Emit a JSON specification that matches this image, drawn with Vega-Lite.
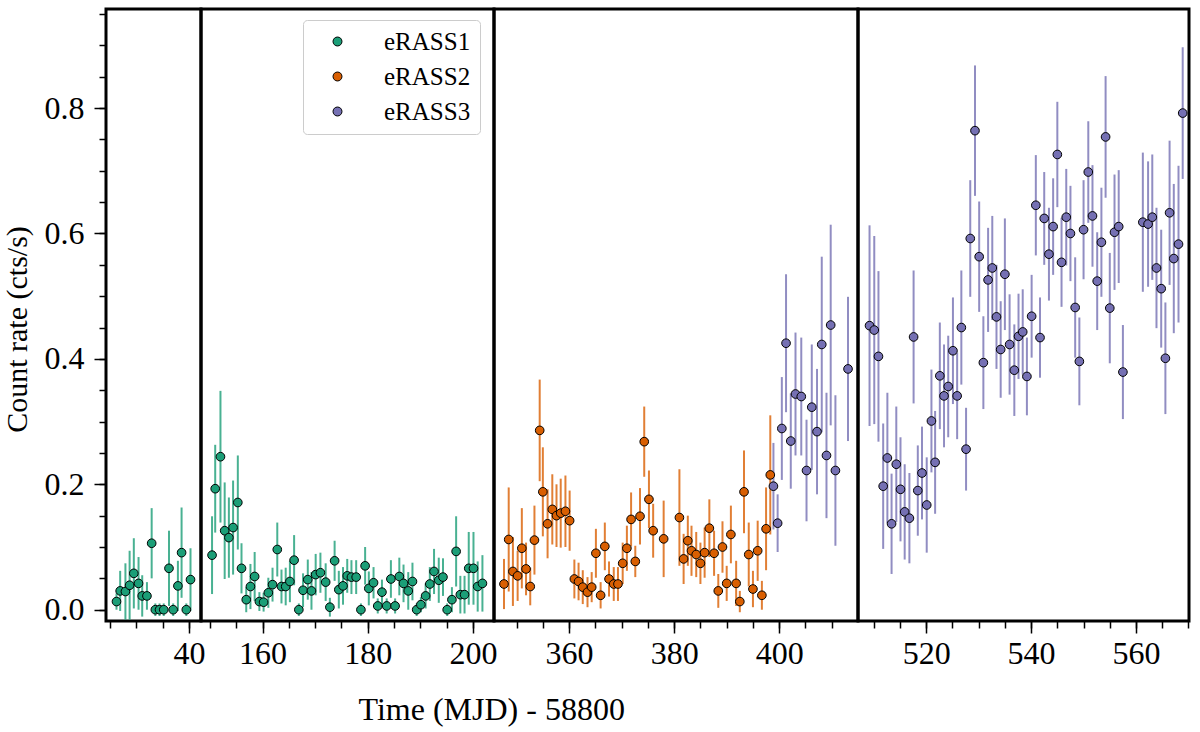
{
  "$schema": "https://vega.github.io/schema/vega-lite/v6.json",
  "padding": {"left": 0, "top": 7, "right": 5, "bottom": 5},
  "background": "white",
  "title": {
    "text": "Time (MJD) - 58800",
    "orient": "bottom",
    "anchor": "start",
    "dx": 358,
    "offset": 24,
    "font": "Liberation Serif",
    "fontSize": 32,
    "fontWeight": "normal",
    "color": "black"
  },
  "datasets": {
    "lc": [
      {"panel":1,"survey":"eRASS1","time":26.2,"rate":0.013,"err":0.013},
      {"panel":1,"survey":"eRASS1","time":26.9,"rate":0.030,"err":0.032},
      {"panel":1,"survey":"eRASS1","time":27.9,"rate":0.029,"err":0.045},
      {"panel":1,"survey":"eRASS1","time":28.7,"rate":0.039,"err":0.055},
      {"panel":1,"survey":"eRASS1","time":29.5,"rate":0.058,"err":0.056},
      {"panel":1,"survey":"eRASS1","time":30.4,"rate":0.042,"err":0.042},
      {"panel":1,"survey":"eRASS1","time":31.1,"rate":0.022,"err":0.033},
      {"panel":1,"survey":"eRASS1","time":32.0,"rate":0.022,"err":0.022},
      {"panel":1,"survey":"eRASS1","time":32.9,"rate":0.106,"err":0.056},
      {"panel":1,"survey":"eRASS1","time":33.6,"rate":0.0,"err":0.01},
      {"panel":1,"survey":"eRASS1","time":34.4,"rate":0.0,"err":0.01},
      {"panel":1,"survey":"eRASS1","time":35.2,"rate":0.0,"err":0.01},
      {"panel":1,"survey":"eRASS1","time":36.2,"rate":0.066,"err":0.06},
      {"panel":1,"survey":"eRASS1","time":37.0,"rate":0.0,"err":0.01},
      {"panel":1,"survey":"eRASS1","time":37.9,"rate":0.038,"err":0.04},
      {"panel":1,"survey":"eRASS1","time":38.6,"rate":0.091,"err":0.072},
      {"panel":1,"survey":"eRASS1","time":39.5,"rate":0.0,"err":0.01},
      {"panel":1,"survey":"eRASS1","time":40.3,"rate":0.048,"err":0.05},

      {"panel":2,"survey":"eRASS1","time":150.4,"rate":0.087,"err":0.062},
      {"panel":2,"survey":"eRASS1","time":151.0,"rate":0.193,"err":0.07},
      {"panel":2,"survey":"eRASS1","time":152.0,"rate":0.244,"err":0.105},
      {"panel":2,"survey":"eRASS1","time":152.8,"rate":0.126,"err":0.077},
      {"panel":2,"survey":"eRASS1","time":153.6,"rate":0.115,"err":0.064},
      {"panel":2,"survey":"eRASS1","time":154.4,"rate":0.131,"err":0.075},
      {"panel":2,"survey":"eRASS1","time":155.3,"rate":0.171,"err":0.075},
      {"panel":2,"survey":"eRASS1","time":156.0,"rate":0.066,"err":0.04},
      {"panel":2,"survey":"eRASS1","time":156.9,"rate":0.016,"err":0.02},
      {"panel":2,"survey":"eRASS1","time":157.7,"rate":0.037,"err":0.036},
      {"panel":2,"survey":"eRASS1","time":158.5,"rate":0.053,"err":0.039},
      {"panel":2,"survey":"eRASS1","time":159.4,"rate":0.013,"err":0.015},
      {"panel":2,"survey":"eRASS1","time":160.2,"rate":0.012,"err":0.015},
      {"panel":2,"survey":"eRASS1","time":161.1,"rate":0.027,"err":0.024},
      {"panel":2,"survey":"eRASS1","time":161.9,"rate":0.040,"err":0.027},
      {"panel":2,"survey":"eRASS1","time":162.8,"rate":0.096,"err":0.043},
      {"panel":2,"survey":"eRASS1","time":163.6,"rate":0.037,"err":0.027},
      {"panel":2,"survey":"eRASS1","time":164.4,"rate":0.037,"err":0.03},
      {"panel":2,"survey":"eRASS1","time":165.2,"rate":0.045,"err":0.033},
      {"panel":2,"survey":"eRASS1","time":166.0,"rate":0.079,"err":0.04},
      {"panel":2,"survey":"eRASS1","time":166.9,"rate":0.0,"err":0.01},
      {"panel":2,"survey":"eRASS1","time":167.7,"rate":0.031,"err":0.027},
      {"panel":2,"survey":"eRASS1","time":168.6,"rate":0.048,"err":0.032},
      {"panel":2,"survey":"eRASS1","time":169.3,"rate":0.030,"err":0.03},
      {"panel":2,"survey":"eRASS1","time":170.1,"rate":0.056,"err":0.033},
      {"panel":2,"survey":"eRASS1","time":171.0,"rate":0.059,"err":0.032},
      {"panel":2,"survey":"eRASS1","time":172.0,"rate":0.044,"err":0.03},
      {"panel":2,"survey":"eRASS1","time":172.8,"rate":0.004,"err":0.015},
      {"panel":2,"survey":"eRASS1","time":173.7,"rate":0.078,"err":0.032},
      {"panel":2,"survey":"eRASS1","time":174.5,"rate":0.032,"err":0.03},
      {"panel":2,"survey":"eRASS1","time":175.3,"rate":0.038,"err":0.03},
      {"panel":2,"survey":"eRASS1","time":176.1,"rate":0.054,"err":0.027},
      {"panel":2,"survey":"eRASS1","time":176.9,"rate":0.052,"err":0.027},
      {"panel":2,"survey":"eRASS1","time":177.8,"rate":0.052,"err":0.027},
      {"panel":2,"survey":"eRASS1","time":178.7,"rate":0.0,"err":0.01},
      {"panel":2,"survey":"eRASS1","time":179.5,"rate":0.070,"err":0.03},
      {"panel":2,"survey":"eRASS1","time":180.2,"rate":0.034,"err":0.027},
      {"panel":2,"survey":"eRASS1","time":181.1,"rate":0.043,"err":0.025},
      {"panel":2,"survey":"eRASS1","time":181.9,"rate":0.006,"err":0.012},
      {"panel":2,"survey":"eRASS1","time":182.7,"rate":0.028,"err":0.02},
      {"panel":2,"survey":"eRASS1","time":183.6,"rate":0.006,"err":0.012},
      {"panel":2,"survey":"eRASS1","time":184.4,"rate":0.049,"err":0.03},
      {"panel":2,"survey":"eRASS1","time":185.2,"rate":0.006,"err":0.012},
      {"panel":2,"survey":"eRASS1","time":186.0,"rate":0.053,"err":0.03},
      {"panel":2,"survey":"eRASS1","time":186.8,"rate":0.042,"err":0.03},
      {"panel":2,"survey":"eRASS1","time":187.7,"rate":0.030,"err":0.03},
      {"panel":2,"survey":"eRASS1","time":188.5,"rate":0.045,"err":0.03},
      {"panel":2,"survey":"eRASS1","time":189.3,"rate":0.0,"err":0.01},
      {"panel":2,"survey":"eRASS1","time":190.1,"rate":0.008,"err":0.012},
      {"panel":2,"survey":"eRASS1","time":191.0,"rate":0.022,"err":0.02},
      {"panel":2,"survey":"eRASS1","time":191.8,"rate":0.041,"err":0.027},
      {"panel":2,"survey":"eRASS1","time":192.6,"rate":0.061,"err":0.036},
      {"panel":2,"survey":"eRASS1","time":193.5,"rate":0.047,"err":0.036},
      {"panel":2,"survey":"eRASS1","time":194.3,"rate":0.052,"err":0.03},
      {"panel":2,"survey":"eRASS1","time":195.1,"rate":0.0,"err":0.01},
      {"panel":2,"survey":"eRASS1","time":196.0,"rate":0.016,"err":0.02},
      {"panel":2,"survey":"eRASS1","time":196.8,"rate":0.093,"err":0.056},
      {"panel":2,"survey":"eRASS1","time":197.6,"rate":0.024,"err":0.03},
      {"panel":2,"survey":"eRASS1","time":198.4,"rate":0.024,"err":0.03},
      {"panel":2,"survey":"eRASS1","time":199.2,"rate":0.066,"err":0.058},
      {"panel":2,"survey":"eRASS1","time":200.1,"rate":0.066,"err":0.058},
      {"panel":2,"survey":"eRASS1","time":200.9,"rate":0.037,"err":0.04},
      {"panel":2,"survey":"eRASS1","time":201.8,"rate":0.042,"err":0.045},

      {"panel":3,"survey":"eRASS2","time":347.6,"rate":0.041,"err":0.04},
      {"panel":3,"survey":"eRASS2","time":348.5,"rate":0.112,"err":0.083},
      {"panel":3,"survey":"eRASS2","time":349.3,"rate":0.061,"err":0.055},
      {"panel":3,"survey":"eRASS2","time":350.2,"rate":0.054,"err":0.04},
      {"panel":3,"survey":"eRASS2","time":351.0,"rate":0.098,"err":0.064},
      {"panel":3,"survey":"eRASS2","time":351.8,"rate":0.065,"err":0.042},
      {"panel":3,"survey":"eRASS2","time":352.6,"rate":0.037,"err":0.03},
      {"panel":3,"survey":"eRASS2","time":353.4,"rate":0.111,"err":0.055},
      {"panel":3,"survey":"eRASS2","time":354.4,"rate":0.286,"err":0.081},
      {"panel":3,"survey":"eRASS2","time":355.0,"rate":0.188,"err":0.071},
      {"panel":3,"survey":"eRASS2","time":355.9,"rate":0.137,"err":0.055},
      {"panel":3,"survey":"eRASS2","time":356.8,"rate":0.160,"err":0.056},
      {"panel":3,"survey":"eRASS2","time":357.6,"rate":0.150,"err":0.05},
      {"panel":3,"survey":"eRASS2","time":358.4,"rate":0.154,"err":0.055},
      {"panel":3,"survey":"eRASS2","time":359.3,"rate":0.157,"err":0.057},
      {"panel":3,"survey":"eRASS2","time":360.1,"rate":0.142,"err":0.048},
      {"panel":3,"survey":"eRASS2","time":361.0,"rate":0.049,"err":0.031},
      {"panel":3,"survey":"eRASS2","time":361.8,"rate":0.045,"err":0.03},
      {"panel":3,"survey":"eRASS2","time":362.6,"rate":0.036,"err":0.027},
      {"panel":3,"survey":"eRASS2","time":363.5,"rate":0.028,"err":0.024},
      {"panel":3,"survey":"eRASS2","time":364.3,"rate":0.036,"err":0.024},
      {"panel":3,"survey":"eRASS2","time":365.1,"rate":0.090,"err":0.039},
      {"panel":3,"survey":"eRASS2","time":366.0,"rate":0.023,"err":0.021},
      {"panel":3,"survey":"eRASS2","time":366.8,"rate":0.101,"err":0.038},
      {"panel":3,"survey":"eRASS2","time":367.6,"rate":0.049,"err":0.028},
      {"panel":3,"survey":"eRASS2","time":368.5,"rate":0.041,"err":0.027},
      {"panel":3,"survey":"eRASS2","time":369.3,"rate":0.041,"err":0.027},
      {"panel":3,"survey":"eRASS2","time":370.2,"rate":0.074,"err":0.033},
      {"panel":3,"survey":"eRASS2","time":371.0,"rate":0.098,"err":0.036},
      {"panel":3,"survey":"eRASS2","time":371.8,"rate":0.144,"err":0.043},
      {"panel":3,"survey":"eRASS2","time":372.6,"rate":0.077,"err":0.025},
      {"panel":3,"survey":"eRASS2","time":373.5,"rate":0.149,"err":0.045},
      {"panel":3,"survey":"eRASS2","time":374.3,"rate":0.268,"err":0.056},
      {"panel":3,"survey":"eRASS2","time":375.2,"rate":0.176,"err":0.046},
      {"panel":3,"survey":"eRASS2","time":376.0,"rate":0.126,"err":0.043},
      {"panel":3,"survey":"eRASS2","time":378.0,"rate":0.113,"err":0.061},
      {"panel":3,"survey":"eRASS2","time":381.0,"rate":0.147,"err":0.077},
      {"panel":3,"survey":"eRASS2","time":381.8,"rate":0.081,"err":0.04},
      {"panel":3,"survey":"eRASS2","time":382.6,"rate":0.110,"err":0.04},
      {"panel":3,"survey":"eRASS2","time":383.3,"rate":0.094,"err":0.04},
      {"panel":3,"survey":"eRASS2","time":384.2,"rate":0.088,"err":0.036},
      {"panel":3,"survey":"eRASS2","time":385.0,"rate":0.074,"err":0.033},
      {"panel":3,"survey":"eRASS2","time":385.8,"rate":0.091,"err":0.04},
      {"panel":3,"survey":"eRASS2","time":386.7,"rate":0.130,"err":0.046},
      {"panel":3,"survey":"eRASS2","time":387.6,"rate":0.090,"err":0.036},
      {"panel":3,"survey":"eRASS2","time":388.4,"rate":0.030,"err":0.027},
      {"panel":3,"survey":"eRASS2","time":389.2,"rate":0.100,"err":0.041},
      {"panel":3,"survey":"eRASS2","time":390.0,"rate":0.042,"err":0.028},
      {"panel":3,"survey":"eRASS2","time":390.8,"rate":0.120,"err":0.046},
      {"panel":3,"survey":"eRASS2","time":391.8,"rate":0.042,"err":0.036},
      {"panel":3,"survey":"eRASS2","time":392.5,"rate":0.013,"err":0.017},
      {"panel":3,"survey":"eRASS2","time":393.3,"rate":0.188,"err":0.066},
      {"panel":3,"survey":"eRASS2","time":394.2,"rate":0.088,"err":0.051},
      {"panel":3,"survey":"eRASS2","time":395.0,"rate":0.033,"err":0.029},
      {"panel":3,"survey":"eRASS2","time":395.9,"rate":0.094,"err":0.048},
      {"panel":3,"survey":"eRASS2","time":396.7,"rate":0.023,"err":0.023},
      {"panel":3,"survey":"eRASS2","time":397.5,"rate":0.129,"err":0.066},
      {"panel":3,"survey":"eRASS2","time":398.3,"rate":0.215,"err":0.095},

      {"panel":3,"survey":"eRASS3","time":398.9,"rate":0.197,"err":0.069},
      {"panel":3,"survey":"eRASS3","time":399.7,"rate":0.138,"err":0.046},
      {"panel":3,"survey":"eRASS3","time":400.5,"rate":0.289,"err":0.082},
      {"panel":3,"survey":"eRASS3","time":401.3,"rate":0.425,"err":0.11},
      {"panel":3,"survey":"eRASS3","time":402.2,"rate":0.269,"err":0.076},
      {"panel":3,"survey":"eRASS3","time":403.1,"rate":0.344,"err":0.098},
      {"panel":3,"survey":"eRASS3","time":404.2,"rate":0.340,"err":0.094},
      {"panel":3,"survey":"eRASS3","time":405.2,"rate":0.222,"err":0.081},
      {"panel":3,"survey":"eRASS3","time":406.2,"rate":0.323,"err":0.10},
      {"panel":3,"survey":"eRASS3","time":407.2,"rate":0.284,"err":0.10},
      {"panel":3,"survey":"eRASS3","time":408.1,"rate":0.423,"err":0.14},
      {"panel":3,"survey":"eRASS3","time":409.0,"rate":0.246,"err":0.10},
      {"panel":3,"survey":"eRASS3","time":409.8,"rate":0.454,"err":0.16},
      {"panel":3,"survey":"eRASS3","time":410.7,"rate":0.222,"err":0.12},
      {"panel":3,"survey":"eRASS3","time":413.1,"rate":0.384,"err":0.115},

      {"panel":4,"survey":"eRASS3","time":509.2,"rate":0.453,"err":0.16},
      {"panel":4,"survey":"eRASS3","time":510.1,"rate":0.446,"err":0.15},
      {"panel":4,"survey":"eRASS3","time":510.9,"rate":0.404,"err":0.136},
      {"panel":4,"survey":"eRASS3","time":511.8,"rate":0.197,"err":0.10},
      {"panel":4,"survey":"eRASS3","time":512.6,"rate":0.242,"err":0.104},
      {"panel":4,"survey":"eRASS3","time":513.4,"rate":0.137,"err":0.08},
      {"panel":4,"survey":"eRASS3","time":514.3,"rate":0.232,"err":0.092},
      {"panel":4,"survey":"eRASS3","time":515.1,"rate":0.192,"err":0.083},
      {"panel":4,"survey":"eRASS3","time":515.9,"rate":0.156,"err":0.076},
      {"panel":4,"survey":"eRASS3","time":516.8,"rate":0.146,"err":0.072},
      {"panel":4,"survey":"eRASS3","time":517.6,"rate":0.435,"err":0.106},
      {"panel":4,"survey":"eRASS3","time":518.4,"rate":0.190,"err":0.072},
      {"panel":4,"survey":"eRASS3","time":519.2,"rate":0.218,"err":0.074},
      {"panel":4,"survey":"eRASS3","time":520.1,"rate":0.167,"err":0.076},
      {"panel":4,"survey":"eRASS3","time":521.0,"rate":0.301,"err":0.082},
      {"panel":4,"survey":"eRASS3","time":521.7,"rate":0.235,"err":0.082},
      {"panel":4,"survey":"eRASS3","time":522.6,"rate":0.373,"err":0.085},
      {"panel":4,"survey":"eRASS3","time":523.4,"rate":0.341,"err":0.082},
      {"panel":4,"survey":"eRASS3","time":524.2,"rate":0.356,"err":0.081},
      {"panel":4,"survey":"eRASS3","time":525.1,"rate":0.413,"err":0.085},
      {"panel":4,"survey":"eRASS3","time":525.9,"rate":0.341,"err":0.069},
      {"panel":4,"survey":"eRASS3","time":526.7,"rate":0.450,"err":0.091},
      {"panel":4,"survey":"eRASS3","time":527.6,"rate":0.256,"err":0.066},
      {"panel":4,"survey":"eRASS3","time":528.4,"rate":0.592,"err":0.093},
      {"panel":4,"survey":"eRASS3","time":529.3,"rate":0.764,"err":0.104},
      {"panel":4,"survey":"eRASS3","time":530.1,"rate":0.563,"err":0.088},
      {"panel":4,"survey":"eRASS3","time":530.9,"rate":0.394,"err":0.074},
      {"panel":4,"survey":"eRASS3","time":531.8,"rate":0.526,"err":0.083},
      {"panel":4,"survey":"eRASS3","time":532.6,"rate":0.545,"err":0.083},
      {"panel":4,"survey":"eRASS3","time":533.4,"rate":0.467,"err":0.083},
      {"panel":4,"survey":"eRASS3","time":534.2,"rate":0.415,"err":0.077},
      {"panel":4,"survey":"eRASS3","time":535.0,"rate":0.535,"err":0.089},
      {"panel":4,"survey":"eRASS3","time":535.9,"rate":0.423,"err":0.08},
      {"panel":4,"survey":"eRASS3","time":536.8,"rate":0.382,"err":0.073},
      {"panel":4,"survey":"eRASS3","time":537.6,"rate":0.436,"err":0.068},
      {"panel":4,"survey":"eRASS3","time":538.4,"rate":0.443,"err":0.068},
      {"panel":4,"survey":"eRASS3","time":539.2,"rate":0.372,"err":0.062},
      {"panel":4,"survey":"eRASS3","time":540.1,"rate":0.468,"err":0.066},
      {"panel":4,"survey":"eRASS3","time":540.9,"rate":0.645,"err":0.08},
      {"panel":4,"survey":"eRASS3","time":541.7,"rate":0.434,"err":0.064},
      {"panel":4,"survey":"eRASS3","time":542.5,"rate":0.624,"err":0.074},
      {"panel":4,"survey":"eRASS3","time":543.4,"rate":0.567,"err":0.074},
      {"panel":4,"survey":"eRASS3","time":544.2,"rate":0.611,"err":0.077},
      {"panel":4,"survey":"eRASS3","time":545.0,"rate":0.726,"err":0.084},
      {"panel":4,"survey":"eRASS3","time":545.8,"rate":0.554,"err":0.071},
      {"panel":4,"survey":"eRASS3","time":546.7,"rate":0.626,"err":0.077},
      {"panel":4,"survey":"eRASS3","time":547.5,"rate":0.600,"err":0.076},
      {"panel":4,"survey":"eRASS3","time":548.4,"rate":0.482,"err":0.08},
      {"panel":4,"survey":"eRASS3","time":549.2,"rate":0.396,"err":0.07},
      {"panel":4,"survey":"eRASS3","time":550.0,"rate":0.606,"err":0.079},
      {"panel":4,"survey":"eRASS3","time":550.9,"rate":0.698,"err":0.081},
      {"panel":4,"survey":"eRASS3","time":551.7,"rate":0.628,"err":0.081},
      {"panel":4,"survey":"eRASS3","time":552.6,"rate":0.524,"err":0.078},
      {"panel":4,"survey":"eRASS3","time":553.4,"rate":0.586,"err":0.087},
      {"panel":4,"survey":"eRASS3","time":554.2,"rate":0.754,"err":0.097},
      {"panel":4,"survey":"eRASS3","time":555.0,"rate":0.481,"err":0.088},
      {"panel":4,"survey":"eRASS3","time":555.9,"rate":0.602,"err":0.092},
      {"panel":4,"survey":"eRASS3","time":556.7,"rate":0.611,"err":0.09},
      {"panel":4,"survey":"eRASS3","time":557.5,"rate":0.379,"err":0.075},
      {"panel":4,"survey":"eRASS3","time":561.3,"rate":0.618,"err":0.111},
      {"panel":4,"survey":"eRASS3","time":562.3,"rate":0.615,"err":0.10},
      {"panel":4,"survey":"eRASS3","time":563.1,"rate":0.626,"err":0.10},
      {"panel":4,"survey":"eRASS3","time":563.9,"rate":0.545,"err":0.096},
      {"panel":4,"survey":"eRASS3","time":564.8,"rate":0.512,"err":0.094},
      {"panel":4,"survey":"eRASS3","time":565.6,"rate":0.401,"err":0.089},
      {"panel":4,"survey":"eRASS3","time":566.4,"rate":0.633,"err":0.115},
      {"panel":4,"survey":"eRASS3","time":567.2,"rate":0.560,"err":0.119},
      {"panel":4,"survey":"eRASS3","time":568.1,"rate":0.583,"err":0.125},
      {"panel":4,"survey":"eRASS3","time":568.9,"rate":0.792,"err":0.105}
    ]
  },
  "data": {"name": "lc"},
  "spacing": 0,
  "bounds": "flush",
  "hconcat": [
    {
      "width": 95,
      "height": 612,
      "transform": [{"filter": "datum.panel == 1"}],
      "layer": [
        {
          "mark": {"type": "errorbar", "thickness": 2, "opacity": 0.8},
          "encoding": {
            "x": {"field": "time", "type": "quantitative", "scale": {"domain": [24.2, 42.3], "nice": false, "zero": false},
                  "axis": {"values": [25, 30, 35, 40], "labels": false, "tickSize": 7, "title": null, "orient": "bottom"}},
            "y": {"field": "rate", "type": "quantitative", "scale": {"domain": [-0.018, 0.958], "nice": false, "zero": false},
                  "axis": {"values": [0, 0.05, 0.1, 0.15, 0.2, 0.25, 0.3, 0.35, 0.4, 0.45, 0.5, 0.55, 0.6, 0.65, 0.7, 0.75, 0.8, 0.85, 0.9, 0.95], "labels": false, "tickSize": 7, "title": null, "orient": "left"}},
            "yError": {"field": "err"},
            "stroke": {"field": "survey", "type": "nominal", "scale": {"domain": ["eRASS3", "eRASS2", "eRASS1"], "range": ["#7570b3", "#d95f02", "#1b9e77"]}, "legend": null}
          }
        },
        {
          "mark": {"type": "point", "filled": true, "size": 75, "stroke": "black", "strokeWidth": 1, "opacity": 1},
          "encoding": {
            "x": {"field": "time", "type": "quantitative", "axis": {"values": [40], "format": "d", "tickSize": 12, "title": null, "orient": "bottom"}},
            "y": {"field": "rate", "type": "quantitative", "axis": {"values": [0, 0.2, 0.4, 0.6, 0.8], "format": ".1f", "tickSize": 12, "title": "Count rate (cts/s)", "orient": "left", "labelPadding": 10, "titlePadding": 12, "titleY": 320}},
            "color": {"field": "survey", "type": "nominal", "scale": {"domain": ["eRASS1", "eRASS2", "eRASS3"], "range": ["#1b9e77", "#d95f02", "#7570b3"]},
                      "legend": {"title": null, "orient": "none", "legendX": 197, "legendY": 11, "symbolType": "circle", "zindex": 5,
                                 "encoding": {"symbols": {"update": {"stroke": {"value": "black"}, "strokeWidth": {"value": 1}, "opacity": {"value": 1}}}}}}
          }
        }
      ],
      "resolve": {"axis": {"x": "independent", "y": "independent"}}
    },
    {
      "width": 293,
      "height": 612,
      "transform": [{"filter": "datum.panel == 2"}],
      "layer": [
        {
          "mark": {"type": "errorbar", "thickness": 2, "opacity": 0.8},
          "encoding": {
            "x": {"field": "time", "type": "quantitative", "scale": {"domain": [148.3, 204.0], "nice": false, "zero": false},
                  "axis": {"values": [150, 155, 160, 165, 170, 175, 180, 185, 190, 195, 200], "labels": false, "tickSize": 7, "title": null, "orient": "bottom"}},
            "y": {"field": "rate", "type": "quantitative", "scale": {"domain": [-0.018, 0.958], "nice": false, "zero": false}, "axis": null},
            "yError": {"field": "err"},
            "stroke": {"field": "survey", "type": "nominal", "scale": {"domain": ["eRASS3", "eRASS2", "eRASS1"], "range": ["#7570b3", "#d95f02", "#1b9e77"]}, "legend": null}
          }
        },
        {
          "mark": {"type": "point", "filled": true, "size": 75, "stroke": "black", "strokeWidth": 1, "opacity": 1},
          "encoding": {
            "x": {"field": "time", "type": "quantitative", "axis": {"values": [160, 180, 200], "format": "d", "tickSize": 12, "title": null, "orient": "bottom"}},
            "y": {"field": "rate", "type": "quantitative", "axis": null},
            "color": {"field": "survey", "type": "nominal", "scale": {"domain": ["eRASS1", "eRASS2", "eRASS3"], "range": ["#1b9e77", "#d95f02", "#7570b3"]},
                      "legend": {"title": null, "orient": "none", "legendX": 197, "legendY": 11, "symbolType": "circle", "zindex": 5,
                                 "encoding": {"symbols": {"update": {"stroke": {"value": "black"}, "strokeWidth": {"value": 1}, "opacity": {"value": 1}}}}}}
          }
        }
      ],
      "resolve": {"axis": {"x": "independent"}}
    },
    {
      "width": 364,
      "height": 612,
      "transform": [{"filter": "datum.panel == 3"}],
      "layer": [
        {
          "mark": {"type": "errorbar", "thickness": 2, "opacity": 0.8},
          "encoding": {
            "x": {"field": "time", "type": "quantitative", "scale": {"domain": [345.7, 415.0], "nice": false, "zero": false},
                  "axis": {"values": [350, 355, 360, 365, 370, 375, 380, 385, 390, 395, 400, 405, 410], "labels": false, "tickSize": 7, "title": null, "orient": "bottom"}},
            "y": {"field": "rate", "type": "quantitative", "scale": {"domain": [-0.018, 0.958], "nice": false, "zero": false}, "axis": null},
            "yError": {"field": "err"},
            "stroke": {"field": "survey", "type": "nominal", "scale": {"domain": ["eRASS3", "eRASS2", "eRASS1"], "range": ["#7570b3", "#d95f02", "#1b9e77"]}, "legend": null}
          }
        },
        {
          "mark": {"type": "point", "filled": true, "size": 75, "stroke": "black", "strokeWidth": 1, "opacity": 1},
          "encoding": {
            "x": {"field": "time", "type": "quantitative", "axis": {"values": [360, 380, 400], "format": "d", "tickSize": 12, "title": null, "orient": "bottom"}},
            "y": {"field": "rate", "type": "quantitative", "axis": null},
            "color": {"field": "survey", "type": "nominal", "scale": {"domain": ["eRASS1", "eRASS2", "eRASS3"], "range": ["#1b9e77", "#d95f02", "#7570b3"]},
                      "legend": {"title": null, "orient": "none", "legendX": 197, "legendY": 11, "symbolType": "circle", "zindex": 5,
                                 "encoding": {"symbols": {"update": {"stroke": {"value": "black"}, "strokeWidth": {"value": 1}, "opacity": {"value": 1}}}}}}
          }
        }
      ],
      "resolve": {"axis": {"x": "independent"}}
    },
    {
      "width": 331,
      "height": 612,
      "transform": [{"filter": "datum.panel == 4"}],
      "layer": [
        {
          "mark": {"type": "errorbar", "thickness": 2, "opacity": 0.8},
          "encoding": {
            "x": {"field": "time", "type": "quantitative", "scale": {"domain": [507.0, 570.1], "nice": false, "zero": false},
                  "axis": {"values": [510, 515, 520, 525, 530, 535, 540, 545, 550, 555, 560, 565, 570], "labels": false, "tickSize": 7, "title": null, "orient": "bottom"}},
            "y": {"field": "rate", "type": "quantitative", "scale": {"domain": [-0.018, 0.958], "nice": false, "zero": false}, "axis": null},
            "yError": {"field": "err"},
            "stroke": {"field": "survey", "type": "nominal", "scale": {"domain": ["eRASS3", "eRASS2", "eRASS1"], "range": ["#7570b3", "#d95f02", "#1b9e77"]}, "legend": null}
          }
        },
        {
          "mark": {"type": "point", "filled": true, "size": 75, "stroke": "black", "strokeWidth": 1, "opacity": 1},
          "encoding": {
            "x": {"field": "time", "type": "quantitative", "axis": {"values": [520, 540, 560], "format": "d", "tickSize": 12, "title": null, "orient": "bottom"}},
            "y": {"field": "rate", "type": "quantitative", "axis": null},
            "color": {"field": "survey", "type": "nominal", "scale": {"domain": ["eRASS1", "eRASS2", "eRASS3"], "range": ["#1b9e77", "#d95f02", "#7570b3"]},
                      "legend": {"title": null, "orient": "none", "legendX": 197, "legendY": 11, "symbolType": "circle", "zindex": 5,
                                 "encoding": {"symbols": {"update": {"stroke": {"value": "black"}, "strokeWidth": {"value": 1}, "opacity": {"value": 1}}}}}}
          }
        }
      ],
      "resolve": {"axis": {"x": "independent"}}
    }
  ],
  "config": {
    "view": {"stroke": "black", "strokeWidth": 3},
    "axis": {
      "domain": false,
      "grid": false,
      "tickColor": "black",
      "tickWidth": 1.5,
      "labelFont": "Liberation Serif",
      "labelFontSize": 32,
      "labelColor": "black",
      "labelPadding": 5,
      "labelFlush": false,
      "labelOverlap": false,
      "labelBound": false,
      "titleFont": "Liberation Serif",
      "titleFontSize": 30,
      "titleFontWeight": "normal",
      "titleColor": "black",
      "titlePadding": 6
    },
    "legend": {
      "fillColor": "white",
      "strokeColor": "#cccccc",
      "cornerRadius": 4,
      "padding": 9,
      "labelFont": "Liberation Serif",
      "labelFontSize": 25,
      "labelColor": "black",
      "labelOffset": 34,
      "symbolOffset": 13,
      "symbolSize": 80,
      "symbolStrokeColor": "black",
      "symbolStrokeWidth": 1,
      "rowPadding": 9
    }
  }
}
